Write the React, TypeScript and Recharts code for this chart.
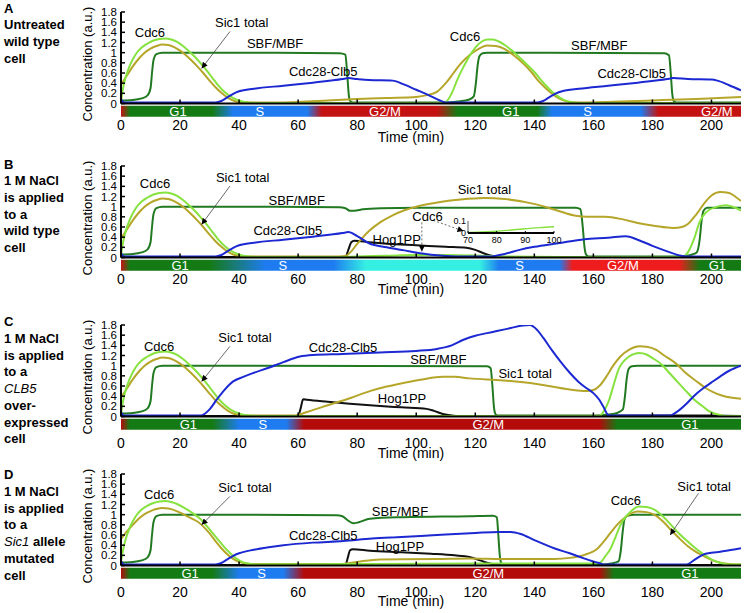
import React from "react";
import { LineChart, Line, XAxis, YAxis, ReferenceArea, ReferenceDot, ReferenceLine } from "recharts";

type Pt = [number, number];
type Note = [string, number, number];
type Arrow = [number, number, number, number, boolean?];

const xTicks = [0, 20, 40, 60, 80, 100, 120, 140, 160, 180, 200];
const yTicks = [0, 0.2, 0.4, 0.6, 0.8, 1, 1.2, 1.4, 1.6, 1.8];
const insetXTicks = [70, 80, 90, 100];

// first G1 wave, same in A, B and C
const cdc6Wave1: Pt[] = [[0, 0.05], [0.7, 0.3], [1.5, 0.5], [3, 0.75], [5, 0.97], [7, 1.1], [9, 1.18], [11, 1.24], [13, 1.27], [15, 1.28], [17, 1.26], [19, 1.21], [21, 1.13], [23, 1.03], [25, 0.92], [27, 0.79], [29, 0.65], [31, 0.5], [33, 0.35], [35, 0.23], [37, 0.14], [39, 0.08], [41, 0.04], [43, 0.02], [46, 0.01]];
const sic1Wave1: Pt[] = [[0, 0.37], [2, 0.55], [4, 0.73], [6, 0.88], [8, 1.0], [10, 1.08], [12, 1.13], [14, 1.16], [16, 1.15], [18, 1.11], [20, 1.04], [22, 0.95], [24, 0.84], [26, 0.72], [28, 0.59], [30, 0.45], [32, 0.32], [34, 0.21], [36, 0.12], [38, 0.06], [40, 0.03], [44, 0.02]];
const sbfRise1: Pt[] = [[0, 0.06], [4, 0.07], [7, 0.1], [9, 0.16], [10, 0.3], [10.5, 0.6], [11, 0.85], [12, 0.97], [14, 1.0], [40, 1.0]];
const clb5Rise1: Pt[] = [[0, 0.09], [1, 0.02], [32, 0.02], [34, 0.05], [36, 0.12], [38, 0.19], [40, 0.24]];

// A: untreated
const aCdc6: Pt[] = [...cdc6Wave1, [50, 0.01], [108, 0.01], [110, 0.03], [112, 0.2], [114, 0.48], [116, 0.72], [118, 0.93], [120, 1.1], [122, 1.21], [124, 1.26], [126, 1.26], [128, 1.22], [130, 1.15], [132, 1.06], [134, 0.96], [136, 0.85], [138, 0.74], [140, 0.62], [142, 0.48], [144, 0.35], [146, 0.23], [148, 0.14], [150, 0.07], [152, 0.03], [156, 0.01], [210, 0.01]];
const aSic1: Pt[] = [...sic1Wave1, [50, 0.02], [60, 0.03], [70, 0.06], [80, 0.09], [90, 0.11], [100, 0.13], [104, 0.17], [107, 0.23], [110, 0.4], [112.5, 0.59], [115, 0.78], [118, 0.95], [121, 1.07], [124, 1.14], [127, 1.13], [130, 1.07], [133, 0.95], [136, 0.8], [139, 0.62], [141, 0.47], [143, 0.35], [145, 0.24], [147, 0.15], [149, 0.08], [151, 0.04], [155, 0.02], [165, 0.03], [180, 0.06], [195, 0.09], [210, 0.13]];
const aSbf: Pt[] = [...sbfRise1, [74, 0.99], [76, 0.96], [76.6, 0.6], [77.1, 0.2], [77.6, 0.05], [78.5, 0.02], [110, 0.02], [114, 0.04], [118, 0.08], [119.5, 0.14], [120.2, 0.4], [120.8, 0.75], [121.4, 0.93], [122.5, 0.99], [124, 1.0], [184, 0.99], [185.6, 0.95], [186.2, 0.6], [186.7, 0.2], [187.2, 0.05], [188, 0.02], [210, 0.02]];
const aClb5: Pt[] = [...clb5Rise1, [45, 0.29], [55, 0.35], [65, 0.41], [75, 0.48], [77, 0.5], [80, 0.48], [84, 0.46], [92, 0.45], [96, 0.37], [100, 0.27], [104, 0.17], [108, 0.06], [110, 0.02], [141, 0.02], [143, 0.05], [145, 0.12], [147, 0.19], [150, 0.25], [155, 0.29], [165, 0.35], [175, 0.41], [185, 0.48], [187, 0.5], [192, 0.48], [200, 0.47], [202, 0.45], [206, 0.36], [210, 0.26]];

// B: NaCl, wild type
const bCdc6: Pt[] = [...cdc6Wave1, [50, 0.01], [70, 0.01], [80, 0.02], [90, 0.035], [100, 0.05], [110, 0.05], [120, 0.04], [130, 0.02], [150, 0.01], [190, 0.01], [192, 0.1], [194, 0.35], [196, 0.7], [198, 0.88], [202, 1.0], [205, 1.03], [208, 0.98], [210, 0.92]];
const bSic1: Pt[] = [...sic1Wave1, [50, 0.02], [74, 0.02], [76, 0.03], [78, 0.12], [80, 0.27], [82, 0.4], [84, 0.52], [88, 0.7], [92, 0.83], [96, 0.93], [100, 1.0], [107, 1.08], [115, 1.14], [123, 1.17], [130, 1.15], [141, 1.04], [148, 0.92], [154, 0.82], [158, 0.8], [164, 0.8], [170, 0.75], [175, 0.68], [181, 0.62], [187, 0.58], [190, 0.6], [192, 0.66], [195, 0.86], [198, 1.1], [200, 1.22], [203, 1.29], [206, 1.27], [208, 1.2], [210, 1.11]];
const bSbf: Pt[] = [...sbfRise1, [74, 0.99], [76, 0.97], [77.5, 0.92], [79, 0.92], [82, 0.95], [88, 0.97], [100, 0.98], [154, 0.98], [155.6, 0.95], [156.4, 0.6], [157, 0.2], [157.6, 0.05], [158.5, 0.02], [190, 0.02], [193, 0.05], [195, 0.1], [196, 0.35], [196.6, 0.7], [197.3, 0.92], [198.5, 0.98], [210, 0.98]];
const bClb5: Pt[] = [...clb5Rise1, [45, 0.29], [55, 0.35], [65, 0.41], [75, 0.48], [77, 0.5], [80, 0.42], [84, 0.28], [90, 0.2], [96, 0.14], [102, 0.08], [108, 0.04], [115, 0.02], [125, 0.02], [130, 0.07], [135, 0.15], [140, 0.21], [148, 0.28], [157, 0.36], [165, 0.39], [171, 0.42], [175, 0.35], [180, 0.23], [185, 0.12], [190, 0.03], [192, 0.02], [210, 0.02]];
const bHog: Pt[] = [[0, 0.01], [76, 0.01], [77, 0.15], [78, 0.3], [79, 0.33], [84, 0.3], [90, 0.27], [100, 0.24], [110, 0.21], [117, 0.19], [120, 0.15], [123, 0.08], [126, 0.03], [130, 0.01], [210, 0.01]];
const insetCdc6: Pt[] = [[70, 0.005], [75, 0.008], [80, 0.015], [85, 0.025], [90, 0.035], [95, 0.045], [100, 0.052]];

// C: NaCl, CLB5 overexpressed
const cCdc6: Pt[] = [...cdc6Wave1, [50, 0.01], [162, 0.01], [163.5, 0.1], [165.3, 0.32], [167, 0.65], [168.7, 0.95], [170.5, 1.1], [172.1, 1.18], [175.6, 1.25], [178, 1.22], [180, 1.15], [183, 1.03], [185.7, 0.86], [188.5, 0.68], [191.4, 0.5], [194, 0.34], [197, 0.2], [199, 0.11], [201.6, 0.05], [205, 0.01], [210, 0.01]];
const cSic1: Pt[] = [...sic1Wave1, [50, 0.02], [59, 0.02], [62, 0.07], [70, 0.22], [78, 0.37], [84.3, 0.5], [90, 0.59], [95.6, 0.66], [102, 0.73], [109, 0.78], [113, 0.78], [118, 0.75], [129.5, 0.71], [140.8, 0.64], [152, 0.53], [157.6, 0.5], [160, 0.52], [162, 0.6], [164, 0.75], [166.6, 0.99], [169, 1.17], [172.3, 1.32], [175.6, 1.38], [178, 1.37], [181.3, 1.31], [184, 1.2], [188, 1.04], [191, 0.87], [195, 0.69], [198, 0.56], [201.7, 0.45], [205, 0.39], [210, 0.35]];
const cSbf: Pt[] = [...sbfRise1, [124, 0.99], [125.2, 0.95], [125.8, 0.6], [126.3, 0.2], [126.8, 0.05], [127.5, 0.02], [162, 0.02], [165, 0.04], [168, 0.07], [170, 0.14], [170.7, 0.4], [171.3, 0.75], [171.9, 0.93], [173, 0.99], [175, 1.0], [210, 1.0]];
const cClb5: Pt[] = [[0, 0.09], [1, 0.02], [27, 0.02], [28.5, 0.06], [30, 0.14], [32.4, 0.33], [35, 0.52], [38, 0.69], [41.4, 0.78], [45, 0.86], [50, 0.96], [55, 1.07], [60.6, 1.18], [65, 1.21], [75, 1.23], [87.7, 1.26], [100, 1.29], [107, 1.33], [112, 1.4], [116, 1.51], [120, 1.59], [124, 1.64], [127.3, 1.68], [132, 1.74], [136, 1.79], [138.5, 1.8], [141, 1.7], [143, 1.55], [146, 1.3], [149, 1.07], [152, 0.86], [155, 0.68], [157.6, 0.56], [160, 0.46], [162, 0.33], [163.5, 0.18], [165, 0.03], [166, 0.02], [186, 0.02], [188, 0.08], [191.7, 0.26], [194, 0.4], [197.3, 0.56], [200, 0.67], [203, 0.79], [206, 0.9], [210, 1.0]];
const cHog: Pt[] = [[0, 0.01], [60, 0.01], [60.8, 0.15], [61.7, 0.34], [63, 0.33], [70, 0.29], [84.3, 0.22], [95, 0.18], [103.5, 0.15], [106, 0.11], [109, 0.05], [112, 0.02], [115, 0.01], [160, 0.01], [165, 0.02], [200, 0.02], [210, 0.01]];

// D: NaCl, Sic1 allele mutated
const dCdc6: Pt[] = [[0, 0.08], [0.7, 0.3], [1.5, 0.5], [3, 0.75], [5, 0.97], [7, 1.1], [9, 1.18], [11, 1.23], [13, 1.26], [15, 1.27], [17, 1.25], [19, 1.21], [21, 1.15], [23, 1.08], [25, 1.0], [27, 0.91], [29, 0.78], [31, 0.64], [33, 0.5], [35, 0.36], [37, 0.24], [39, 0.14], [41, 0.07], [43, 0.04], [46, 0.02], [80, 0.03], [120, 0.04], [160, 0.04], [162.4, 0.06], [164, 0.18], [165.8, 0.33], [167.5, 0.56], [169.2, 0.8], [171, 0.96], [172.6, 1.06], [175.4, 1.16], [178, 1.15], [180.6, 1.1], [183.5, 0.97], [186.3, 0.8], [189, 0.63], [192, 0.47], [195, 0.32], [197.6, 0.21], [200, 0.12], [203, 0.05], [206, 0.02], [210, 0.02]];
const dSic1: Pt[] = [[0, 0.52], [2, 0.67], [4, 0.8], [6, 0.92], [8, 1.01], [10, 1.07], [12, 1.11], [14, 1.13], [16, 1.12], [18, 1.09], [20, 1.04], [22, 0.98], [24, 0.92], [26, 0.86], [28, 0.76], [30, 0.63], [32, 0.48], [34, 0.34], [36, 0.22], [38, 0.13], [40, 0.07], [42, 0.04], [44, 0.03], [75, 0.03], [80, 0.07], [87.7, 0.12], [107, 0.13], [118, 0.14], [129.5, 0.13], [146.7, 0.13], [152, 0.15], [157, 0.21], [161.3, 0.33], [163.5, 0.47], [165.8, 0.64], [168, 0.8], [170.4, 0.93], [173, 1.03], [175, 1.06], [178, 1.05], [180.6, 1.0], [183.5, 0.87], [186.3, 0.7], [189, 0.54], [192, 0.38], [195, 0.26], [197.6, 0.18], [200, 0.11], [202, 0.07], [206, 0.03], [210, 0.02]];
const dSbf: Pt[] = [...sbfRise1, [73, 0.99], [75, 0.97], [77, 0.88], [78.7, 0.83], [80.5, 0.85], [84.3, 0.92], [95.6, 0.95], [118, 0.97], [126, 0.98], [127.3, 0.95], [127.8, 0.6], [128.3, 0.2], [128.8, 0.05], [129.5, 0.02], [163, 0.02], [166, 0.04], [168.5, 0.08], [169.3, 0.3], [169.9, 0.65], [170.5, 0.9], [171.5, 0.98], [174, 1.0], [210, 1.0]];
const dClb5: Pt[] = [...clb5Rise1, [45, 0.31], [50, 0.36], [55, 0.4], [65, 0.45], [75.3, 0.48], [85, 0.53], [95, 0.56], [107, 0.6], [120, 0.64], [128, 0.66], [132, 0.66], [135.4, 0.62], [140, 0.5], [146.7, 0.34], [152, 0.24], [156.8, 0.14], [160, 0.08], [162.4, 0.04], [163.5, 0.02], [191.6, 0.02], [194, 0.1], [197, 0.21], [200, 0.25], [203, 0.27], [206, 0.3], [210, 0.34]];
const dHog: Pt[] = [[0, 0.01], [76, 0.01], [76.8, 0.15], [77.6, 0.3], [78.5, 0.32], [84.3, 0.29], [95, 0.26], [105, 0.23], [113, 0.2], [118, 0.17], [121.6, 0.1], [125, 0.04], [128, 0.01], [210, 0.01]];

// cell-cycle phase bars
const G1 = "#147a14", S = "#1e7cf0", RED = "#c41212", RED_B = "#ee1c1c", RED_D = "#b30a0a", CYAN = "#35f0e2";
const aStops: [number, string][] = [[0, RED], [3, G1], [31, G1], [38, S], [63, S], [68, RED], [107, RED], [114, G1], [141, G1], [146, S], [176, S], [182, RED], [210, RED]];
const bStops: [number, string][] = [[0, RED], [3, G1], [30, G1], [49, S], [72, S], [83, CYAN], [121.5, CYAN], [128, S], [148.5, S], [153, RED_B], [189, RED_B], [196, G1], [210, G1]];
const cStops: [number, string][] = [[0, RED_D], [3, G1], [31, G1], [40, S], [56, S], [62, RED_D], [162, RED_D], [168, G1], [210, G1]];
const dStops: [number, string][] = [[0, RED_D], [3, G1], [31, G1], [40, S], [55, S], [62, RED_D], [162, RED_D], [167, G1], [210, G1]];
const aPhases: [string, number][] = [["G1", 19.3], ["S", 47], ["G2/M", 89.4], ["G1", 132], ["S", 158], ["G2/M", 201.8]];
const bPhases: [string, number][] = [["G1", 20], ["S", 54.8], ["S", 135], ["G2/M", 170], ["G1", 202]];
const cPhases: [string, number][] = [["G1", 22.8], ["S", 48], ["G2/M", 124.4], ["G1", 192.7]];
const dPhases: [string, number][] = [["G1", 23.4], ["S", 47.6], ["G2/M", 124.4], ["G1", 192.7]];

// curve labels and arrows
const aNotes: Note[] = [["Cdc6", 9.8, 1.4], ["Sic1 total", 40.9, 1.59], ["SBF/MBF", 52.2, 1.18], ["Cdc28-Clb5", 68.5, 0.63], ["Cdc6", 116.5, 1.33], ["SBF/MBF", 162, 1.15], ["Cdc28-Clb5", 173, 0.6]];
const bNotes: Note[] = [["Cdc6", 11.5, 1.46], ["Sic1 total", 41.2, 1.57], ["SBF/MBF", 59.5, 1.13], ["Cdc28-Clb5", 56.5, 0.54], ["Sic1 total", 123.1, 1.34], ["Cdc6", 103.8, 0.81], ["Hog1PP", 93.4, 0.35]];
const cNotes: Note[] = [["Cdc6", 12.9, 1.38], ["Sic1 total", 42, 1.55], ["Cdc28-Clb5", 75.2, 1.35], ["SBF/MBF", 107.5, 1.12], ["Sic1 total", 136.9, 0.85], ["Hog1PP", 95.2, 0.35]];
const dNotes: Note[] = [["Cdc6", 12.9, 1.39], ["Sic1 total", 42, 1.53], ["Cdc28-Clb5", 68.5, 0.6], ["SBF/MBF", 94.5, 1.07], ["Hog1PP", 94.5, 0.37], ["Cdc6", 171, 1.29], ["Sic1 total", 197.5, 1.55]];
const aArrows: Arrow[] = [[36.9, 1.415, 27.3, 0.69]];
const bArrows: Arrow[] = [[36.9, 1.405, 27.3, 0.65], [105.8, 0.73, 116, 0.52, true], [101.9, 0.69, 101.9, 0.12, true]];
const cArrows: Arrow[] = [[36.9, 1.38, 27.3, 0.69]];
const dArrows: Arrow[] = [[36.9, 1.36, 27.3, 0.8], [195.6, 1.42, 186, 0.6]];

const FONT = '"Liberation Sans", Arial, Helvetica, sans-serif';
const CDC6 = "#86e23e", SIC1 = "#b5a62a", SBF = "#217a21", CLB5 = "#1c28d2", HOG = "#111111";
const PLOT_H = 91.5;

const rows = (pts: Pt[]) => pts.map(([t, v]) => ({ t, v }));
const fmtY = (v: number) => (Number.isInteger(v) ? String(v) : v.toFixed(1));
const frame = { stroke: "#000", strokeWidth: 2 };

type PanelProps = {
  id: string;
  plotTop: number;
  tickGap: number;
  titleGap: number;
  caption: React.ReactNode[];
  captionTop: number;
  cdc6: Pt[];
  sic1: Pt[];
  sbf: Pt[];
  clb5: Pt[];
  hog?: Pt[];
  stops: [number, string][];
  phases: [string, number][];
  notes: Note[];
  arrows: Arrow[];
};

function Panel(p: PanelProps) {
  const zero = p.plotTop + PLOT_H;
  const series: [Pt[] | undefined, string][] = [[p.hog, HOG], [p.sbf, SBF], [p.sic1, SIC1], [p.cdc6, CDC6], [p.clb5, CLB5]];
  return (
    <>
      <div style={{ position: "absolute", left: 0, top: p.plotTop - 10 }}>
        <LineChart width={748} height={10 + PLOT_H + 50} margin={{ top: 10, right: 7, bottom: 0, left: 0 }}>
          <defs>
            <linearGradient id={`bar${p.id}`} x1="0" y1="0" x2="1" y2="0">
              {p.stops.map(([t, c], i) => (
                <stop key={i} offset={t / 210} stopColor={c} />
              ))}
            </linearGradient>
            <marker id={`arr${p.id}`} viewBox="0 0 10 10" refX="10" refY="5" markerWidth="8" markerHeight="6" orient="auto" markerUnits="userSpaceOnUse">
              <path d="M0,0 L10,5 L0,10 z" fill="#000" />
            </marker>
          </defs>
          <XAxis dataKey="t" type="number" domain={[0, 210]} ticks={xTicks} interval={0} height={50} tickSize={-4} tickMargin={p.tickGap} axisLine={frame} tickLine={{ stroke: "#000", strokeWidth: 1.5 }} tick={{ fill: "#000", fontSize: 14 }} allowDataOverflow />
          <XAxis xAxisId="top" orientation="top" dataKey="t" type="number" domain={[0, 210]} ticks={xTicks} interval={0} height={0} tickSize={-4} tick={false} axisLine={frame} tickLine={{ stroke: "#000", strokeWidth: 1.5 }} allowDataOverflow />
          <YAxis type="number" domain={[0, 1.8]} ticks={yTicks} interval={0} width={121} tickSize={-4} tickMargin={8} tickFormatter={fmtY} axisLine={frame} tickLine={{ stroke: "#000", strokeWidth: 1.5 }} tick={{ fill: "#000", fontSize: 11.5 }} allowDataOverflow />
          <YAxis yAxisId="r" orientation="right" type="number" domain={[0, 1.8]} ticks={yTicks} interval={0} width={0} tickSize={-4} tick={false} axisLine={frame} tickLine={{ stroke: "#000", strokeWidth: 1.5 }} allowDataOverflow />
          <ReferenceArea x1={0} x2={210} y1={-0.26} y2={-0.045} ifOverflow="visible" fill={`url(#bar${p.id})`} fillOpacity={1} stroke="none" />
          {p.phases.map(([name, t], i) => (
            <ReferenceDot key={`ph${i}`} x={t} y={-0.155} r={0} fill="none" stroke="none" ifOverflow="visible" label={{ value: name, position: "center", fill: "#fff", fontSize: 13 }} />
          ))}
          {series.map(([d, c], i) =>
            d ? <Line key={`s${i}`} data={rows(d)} dataKey="v" type="monotone" stroke={c} strokeWidth={2} dot={false} activeDot={false} isAnimationActive={false} /> : null
          )}
          {p.notes.map(([text, t, v], i) => (
            <ReferenceDot key={`n${i}`} x={t} y={v} r={0} fill="none" stroke="none" ifOverflow="visible" label={{ value: text, position: "center", fill: "#000", fontSize: 13 }} />
          ))}
          {p.arrows.map(([t1, v1, t2, v2, dashed], i) => (
            <ReferenceLine
              key={`a${i}`}
              segment={[{ x: t1, y: v1 }, { x: t2, y: v2 }]}
              ifOverflow="visible"
              shape={(s: any) => (
                <line x1={s.x1} y1={s.y1} x2={s.x2} y2={s.y2} stroke="#444" strokeWidth={0.8} strokeDasharray={dashed ? "2 2" : undefined} markerEnd={`url(#arr${p.id})`} />
              )}
            />
          ))}
        </LineChart>
      </div>
      <div style={{ position: "absolute", left: 87, top: p.plotTop + PLOT_H / 2 + 6, transform: "translate(-50%, -50%) rotate(-90deg)", whiteSpace: "nowrap", fontSize: 13 }}>
        Concentration (a.u.)
      </div>
      <div style={{ position: "absolute", left: 411, top: zero + p.titleGap, transform: "translate(-50%, -50%)", whiteSpace: "nowrap", fontSize: 14 }}>
        Time (min)
      </div>
      <div style={{ position: "absolute", left: 4, top: p.captionTop - 8.35, fontWeight: "bold", fontSize: 13, lineHeight: "16.7px" }}>
        {p.caption.map((l, i) => (
          <div key={i}>{l}</div>
        ))}
      </div>
    </>
  );
}

function Inset() {
  return (
    <div style={{ position: "absolute", left: 438, top: 216.7 }}>
      <LineChart width={134} height={32} margin={{ top: 4, right: 18, bottom: 0, left: 0 }}>
        <XAxis dataKey="t" type="number" domain={[70, 100]} ticks={insetXTicks} interval={0} height={16} tickSize={-2} tickMargin={6} axisLine={{ stroke: "#000", strokeWidth: 2 }} tickLine={{ stroke: "#000" }} tick={{ fill: "#000", fontSize: 9 }} allowDataOverflow />
        <XAxis xAxisId="top" orientation="top" dataKey="t" type="number" domain={[70, 100]} ticks={insetXTicks} interval={0} height={0} tickSize={-2} tick={false} axisLine={{ stroke: "#555", strokeWidth: 0.8 }} tickLine={{ stroke: "#555" }} allowDataOverflow />
        <YAxis type="number" domain={[0, 0.1]} ticks={[0, 0.1]} interval={0} width={30} tickSize={0} tickMargin={2} tickLine={false} axisLine={{ stroke: "#333", strokeWidth: 0.8 }} tick={{ fill: "#000", fontSize: 9 }} allowDataOverflow />
        <YAxis yAxisId="r" orientation="right" type="number" domain={[0, 0.1]} ticks={[0, 0.1]} width={0} tick={false} tickLine={false} axisLine={{ stroke: "#555", strokeWidth: 0.8 }} allowDataOverflow />
        <Line data={rows(insetCdc6)} dataKey="v" type="monotone" stroke={CDC6} strokeWidth={1.4} dot={false} activeDot={false} isAnimationActive={false} />
      </LineChart>
    </div>
  );
}

export default function App() {
  return (
    <div style={{ position: "absolute", left: 0, top: 0, width: 748, height: 613, background: "#fff", fontFamily: FONT, color: "#000" }}>
      <Panel id="A" plotTop={11.8} tickGap={21} titleGap={33.4} captionTop={9} caption={["A", "Untreated", "wild type", "cell"]}
        cdc6={aCdc6} sic1={aSic1} sbf={aSbf} clb5={aClb5} stops={aStops} phases={aPhases} notes={aNotes} arrows={aArrows} />
      <Panel id="B" plotTop={166.3} tickGap={21} titleGap={31.5} captionTop={165} caption={["B", "1 M NaCl", "is applied", "to a", "wild type", "cell"]}
        cdc6={bCdc6} sic1={bSic1} sbf={bSbf} clb5={bClb5} hog={bHog} stops={bStops} phases={bPhases} notes={bNotes} arrows={bArrows} />
      <Panel id="C" plotTop={325} tickGap={25.5} titleGap={36.5} captionTop={322.7}
        caption={["C", "1 M NaCl", "is applied", "to a", <i style={{ fontWeight: "normal" }}>CLB5</i>, "over-", "expressed", "cell"]}
        cdc6={cCdc6} sic1={cSic1} sbf={cSbf} clb5={cClb5} hog={cHog} stops={cStops} phases={cPhases} notes={cNotes} arrows={cArrows} />
      <Panel id="D" plotTop={474} tickGap={25.5} titleGap={35} captionTop={475.7}
        caption={["D", "1 M NaCl", "is applied", "to a", <><i style={{ fontWeight: "normal" }}>Sic1</i> allele</>, "mutated", "cell"]}
        cdc6={dCdc6} sic1={dSic1} sbf={dSbf} clb5={dClb5} hog={dHog} stops={dStops} phases={dPhases} notes={dNotes} arrows={dArrows} />
      <Inset />
    </div>
  );
}
